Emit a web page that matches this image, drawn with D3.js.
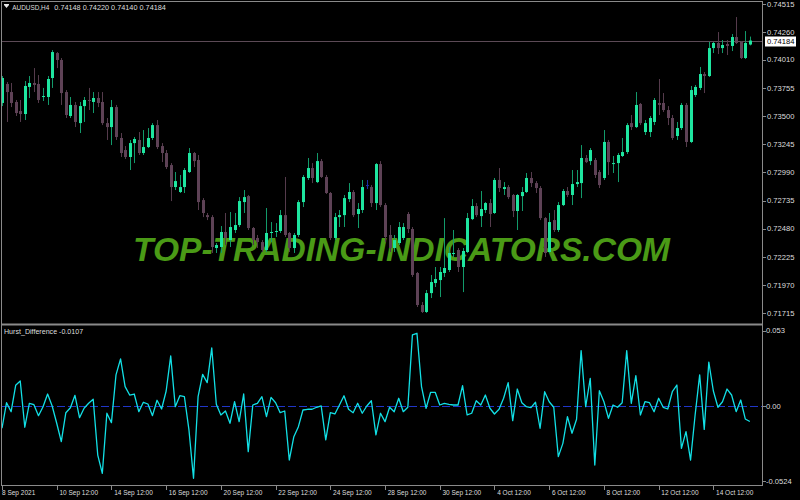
<!DOCTYPE html>
<html><head><meta charset="utf-8">
<script src="https://cdnjs.cloudflare.com/ajax/libs/d3/7.8.5/d3.min.js"></script>
<style>body{margin:0;background:#000;}svg{display:block;}</style>
</head><body>
<svg id="c" width="800" height="500"></svg>
<script>
const symbol = "AUDUSD,H4";
const indicatorName = "Hurst_Difference";

const opens = [
0.73619,0.73791,0.73718,0.73628,0.73546,0.73519,0.73764,0.73800,0.73791,0.73673,
0.73673,0.73845,0.74071,0.74008,0.73718,0.73501,0.73601,0.73437,0.73591,0.73646,
0.73628,0.73664,0.73628,0.73437,0.73401,0.73582,0.73302,0.73193,0.73130,0.73256,
0.73284,0.73166,0.73220,0.73302,0.73419,0.73229,0.73166,0.73057,0.72858,0.72813,
0.72858,0.72994,0.73166,0.73103,0.72740,0.72604,0.72586,0.72306,0.72315,0.72451,
0.72378,0.72469,0.72514,0.72722,0.72776,0.72487,0.72397,0.72360,0.72288,0.72442,
0.72451,0.72460,0.72604,0.72442,0.72306,0.72424,0.72722,0.72940,0.73030,0.72903,
0.73093,0.72949,0.72804,0.72397,0.72586,0.72604,0.72749,0.72813,0.72614,0.72650,
0.72876,0.72858,0.72713,0.73066,0.72695,0.72424,0.72306,0.72351,0.72397,0.72614,
0.72478,0.72080,0.71790,0.71727,0.71898,0.71989,0.72016,0.72080,0.72107,0.72252,
0.72288,0.72134,0.72270,0.72568,0.72686,0.72595,0.72650,0.72713,0.72623,0.72922,
0.72840,0.72858,0.72786,0.72641,0.72776,0.72813,0.72940,0.72894,0.72849,0.72577,
0.72270,0.72559,0.72469,0.72695,0.72822,0.72786,0.72885,0.72894,0.73121,0.73093,
0.73103,0.72994,0.72940,0.73266,0.73066,0.73075,0.73139,0.73175,0.73437,0.73401,
0.73610,0.73356,0.73356,0.73447,0.73619,0.73619,0.73555,0.73483,0.73320,0.73392,
0.73601,0.73266,0.73691,0.73755,0.73881,0.73863,0.74116,0.74162,0.74116,0.74153,
0.74135,0.74216,0.74171,0.74026,0.74148];
const highs = [
0.73863,0.73809,0.73800,0.73646,0.73646,0.73818,0.73863,0.73935,0.73872,0.73755,
0.73863,0.74098,0.74080,0.74026,0.73736,0.73673,0.73628,0.73628,0.73673,0.73755,
0.73718,0.73718,0.73718,0.73483,0.73646,0.73601,0.73347,0.73229,0.73284,0.73311,
0.73356,0.73374,0.73392,0.73437,0.73465,0.73256,0.73193,0.73075,0.72994,0.72967,
0.73030,0.73211,0.73175,0.73148,0.72758,0.72623,0.72604,0.72351,0.72505,0.72623,
0.72632,0.72623,0.72767,0.72831,0.72786,0.72496,0.72424,0.72378,0.72668,0.72541,
0.72532,0.72650,0.72949,0.72451,0.72442,0.72740,0.72967,0.73121,0.73075,0.73166,
0.73112,0.72967,0.72813,0.72623,0.72650,0.72786,0.72894,0.72831,0.72713,0.72922,
0.72922,0.72876,0.73075,0.73093,0.72713,0.72514,0.72424,0.72541,0.72532,0.72632,
0.72496,0.72089,0.71817,0.71926,0.72062,0.72134,0.72134,0.72577,0.72315,0.72469,
0.72306,0.72306,0.72623,0.72749,0.72713,0.72822,0.72722,0.72749,0.72940,0.73030,
0.72903,0.72876,0.72795,0.72795,0.72858,0.72985,0.72994,0.72912,0.72867,0.72586,
0.72623,0.72650,0.72722,0.72840,0.72858,0.73012,0.73012,0.73238,0.73148,0.73211,
0.73121,0.73012,0.73374,0.73284,0.73139,0.73166,0.73302,0.73437,0.73510,0.73718,
0.73619,0.73465,0.73501,0.73664,0.73836,0.73709,0.73591,0.73510,0.73447,0.73619,
0.73619,0.73773,0.73782,0.73945,0.73899,0.74171,0.74171,0.74261,0.74189,0.74189,
0.74243,0.74397,0.74180,0.74270,0.74220];
const lows = [
0.73591,0.73447,0.73582,0.73501,0.73447,0.73465,0.73664,0.73718,0.73619,0.73637,
0.73601,0.73755,0.73935,0.73601,0.73483,0.73483,0.73401,0.73347,0.73447,0.73555,
0.73528,0.73582,0.73419,0.73284,0.73238,0.73284,0.73130,0.73112,0.73012,0.73075,
0.73148,0.73148,0.73211,0.73284,0.73202,0.73084,0.73021,0.72731,0.72831,0.72804,
0.72804,0.72985,0.73039,0.72650,0.72586,0.72559,0.72261,0.72261,0.72261,0.72333,
0.72315,0.72442,0.72496,0.72623,0.72469,0.72333,0.72306,0.72270,0.72270,0.72360,
0.72406,0.72442,0.72406,0.72270,0.72261,0.72406,0.72677,0.72922,0.72894,0.72894,
0.72940,0.72795,0.72378,0.72378,0.72496,0.72496,0.72722,0.72586,0.72487,0.72623,
0.72840,0.72677,0.72650,0.72677,0.72360,0.72270,0.72270,0.72333,0.72378,0.72442,
0.72044,0.71772,0.71718,0.71718,0.71853,0.71953,0.71862,0.72044,0.72089,0.72225,
0.72089,0.71907,0.72261,0.72559,0.72586,0.72496,0.72623,0.72496,0.72614,0.72813,
0.72786,0.72749,0.72586,0.72469,0.72641,0.72804,0.72858,0.72804,0.72559,0.72225,
0.72261,0.72451,0.72451,0.72686,0.72767,0.72695,0.72858,0.72758,0.73075,0.73057,
0.72940,0.72849,0.72922,0.72967,0.72985,0.72903,0.73130,0.73157,0.73374,0.73392,
0.73419,0.73329,0.73311,0.73419,0.73510,0.73537,0.73419,0.73284,0.73284,0.73374,
0.73220,0.73256,0.73673,0.73736,0.73709,0.73854,0.74071,0.74062,0.74071,0.74053,
0.74089,0.74153,0.74017,0.74017,0.74140];
const closes = [
0.73845,0.73718,0.73619,0.73528,0.73519,0.73773,0.73800,0.73782,0.73646,0.73682,
0.73836,0.74080,0.74008,0.73709,0.73510,0.73601,0.73447,0.73591,0.73646,0.73637,
0.73664,0.73619,0.73437,0.73401,0.73582,0.73311,0.73166,0.73130,0.73256,0.73293,
0.73166,0.73220,0.73302,0.73419,0.73220,0.73166,0.73039,0.72858,0.72912,0.72858,
0.73012,0.73166,0.73093,0.72722,0.72623,0.72586,0.72315,0.72333,0.72451,0.72397,
0.72496,0.72514,0.72731,0.72767,0.72487,0.72378,0.72360,0.72288,0.72442,0.72451,
0.72460,0.72604,0.72424,0.72306,0.72424,0.72722,0.72949,0.73030,0.72940,0.73093,
0.72949,0.72804,0.72397,0.72586,0.72604,0.72758,0.72813,0.72604,0.72659,0.72858,
0.72876,0.72713,0.73066,0.72695,0.72406,0.72306,0.72378,0.72496,0.72496,0.72478,
0.72062,0.71790,0.71727,0.71898,0.71998,0.72025,0.72089,0.72125,0.72261,0.72261,
0.72134,0.72279,0.72577,0.72686,0.72604,0.72659,0.72713,0.72614,0.72922,0.72849,
0.72858,0.72767,0.72641,0.72786,0.72813,0.72940,0.72894,0.72849,0.72577,0.72261,
0.72541,0.72469,0.72695,0.72822,0.72786,0.72885,0.72903,0.73121,0.73084,0.73193,
0.72967,0.72876,0.73266,0.73084,0.73075,0.73148,0.73175,0.73419,0.73401,0.73601,
0.73437,0.73437,0.73483,0.73646,0.73601,0.73555,0.73483,0.73302,0.73392,0.73601,
0.73266,0.73736,0.73764,0.73881,0.73863,0.74116,0.74162,0.74116,0.74144,0.74135,
0.74216,0.74162,0.74026,0.74162,0.74184];

const hurst = [
-0.0154,0.0025,-0.0038,0.0147,0.0177,-0.0147,0.0021,0.0011,-0.0066,-0.0003,
0.0086,0.0002,-0.0119,-0.0248,-0.0045,-0.0010,0.0077,-0.0080,-0.0014,0.0021,
0.0049,-0.0342,-0.0470,-0.0049,-0.0115,0.0220,0.0332,0.0138,0.0079,0.0086,
-0.0038,0.0028,0.0016,-0.0066,0.0042,-0.0019,0.0107,0.0353,-0.0003,0.0074,
0.0067,-0.0166,-0.0505,0.0067,0.0224,0.0166,0.0409,0.0014,-0.0061,-0.0033,
-0.0119,0.0032,-0.0108,0.0086,-0.0318,0.0009,0.0021,0.0067,-0.0073,0.0063,
0.0025,-0.0045,-0.0033,-0.0377,-0.0213,-0.0143,-0.0026,-0.0021,-0.0021,-0.0007,
0.0002,-0.0236,-0.0045,-0.0054,0.0009,0.0074,-0.0021,-0.0045,0.0021,-0.0049,
0.0002,0.0039,-0.0201,-0.0049,-0.0108,-0.0007,-0.0038,0.0056,-0.0038,-0.0007,
0.0500,0.0512,0.0138,-0.0014,0.0098,0.0098,0.0009,0.0021,0.0014,0.0009,
0.0009,0.0145,-0.0061,-0.0049,0.0039,0.0009,0.0079,-0.0014,-0.0054,-0.0021,
0.0056,0.0166,-0.0101,0.0121,0.0025,-0.0003,-0.0010,0.0028,-0.0154,0.0102,
0.0032,-0.0007,-0.0353,-0.0260,-0.0073,-0.0189,-0.0091,0.0390,-0.0003,0.0196,
-0.0412,0.0109,0.0032,-0.0084,0.0009,-0.0007,0.0025,0.0390,0.0021,0.0215,
-0.0061,0.0032,0.0025,-0.0038,0.0056,-0.0007,-0.0019,0.0102,0.0149,-0.0295,
-0.0178,-0.0377,-0.0061,0.0220,-0.0162,0.0309,0.0107,-0.0007,0.0032,0.0121,
0.0079,-0.0038,0.0044,-0.0089,-0.0107];

const priceTicks = [0.74515,0.74260,0.74010,0.73755,0.73500,0.73245,0.72990,0.72735,0.72480,0.72225,0.71970,0.71715];
const hurstTicks = [0.053, 0.0, -0.0524];
const hurstTickLabels = ["0.053", "0.00", "-0.0524"];
const timeTickBars = [0,12,24,36,48,60,72,84,96,108,120,132,144,156];
const timeTickLabels = ["8 Sep 2021","10 Sep 12:00","14 Sep 12:00","16 Sep 12:00","20 Sep 12:00","22 Sep 12:00","24 Sep 12:00","28 Sep 12:00","30 Sep 12:00","4 Oct 12:00","6 Oct 12:00","8 Oct 12:00","12 Oct 12:00","14 Oct 12:00"];
const watermark = "TOP-TRADING-INDICATORS.COM";

const svg = d3.select("#c");
const F = "'Liberation Sans', Arial, sans-serif";
const n = closes.length;
const x = d3.scaleLinear().domain([0, 164]).range([2, 2 + 164 * 4.56]);
const yP = d3.scaleLinear().domain([0.71715, 0.74515]).range([313.3, 4]);
const yH = d3.scaleLinear().domain([-0.0524, 0.053]).range([481, 330.7]);

svg.append("rect").attr("width", 800).attr("height", 500).attr("fill", "#000");

// clips
const defs = svg.append("defs");
defs.append("clipPath").attr("id", "mainClip").append("rect").attr("x", 2).attr("y", 2).attr("width", 760).attr("height", 321);
defs.append("clipPath").attr("id", "subClip").append("rect").attr("x", 2).attr("y", 326).attr("width", 760).attr("height", 159);

// watermark
svg.append("text").attr("x", 133).attr("y", 261)
  .attr("font-family", F).attr("font-weight", "bold").attr("font-style", "italic")
  .attr("font-size", 33).attr("fill", "#4a9a16")
  .attr("textLength", 537).attr("lengthAdjust", "spacingAndGlyphs")
  .text(watermark);

// current price line
const last = n - 1;
svg.append("line").attr("x1", 2).attr("x2", 762).attr("y1", Math.round(yP(closes[last])) + 0.5).attr("y2", Math.round(yP(closes[last])) + 0.5)
  .attr("stroke", "#5c4a56").attr("stroke-width", 1);

// candles
const gC = svg.append("g").attr("clip-path", "url(#mainClip)");
const idx = d3.range(n);
const col = i => closes[i] > opens[i] ? "bull" : (closes[i] < opens[i] ? "bear" : "doji");
const bodyCol = {bull: "#1ee6a0", bear: "#5e4256", doji: "#1c2fa8"};
const wickCol = {bull: "#129a6a", bear: "#553b4c", doji: "#1c2fa8"};
gC.selectAll("line.w").data(idx).join("line").attr("class", "w")
  .attr("x1", i => Math.round(x(i)) + 0.5).attr("x2", i => Math.round(x(i)) + 0.5)
  .attr("y1", i => yP(highs[i])).attr("y2", i => yP(lows[i]))
  .attr("stroke", i => wickCol[col(i)]).attr("stroke-width", 1);
gC.selectAll("rect.b").data(idx).join("rect").attr("class", "b")
  .attr("x", i => Math.round(x(i)) - 1).attr("width", 3)
  .attr("y", i => yP(Math.max(opens[i], closes[i])))
  .attr("height", i => Math.max(1, Math.abs(yP(opens[i]) - yP(closes[i]))))
  .attr("fill", i => bodyCol[col(i)]);

// indicator
const gH = svg.append("g").attr("clip-path", "url(#subClip)");
gH.append("line").attr("x1", 2).attr("x2", 762).attr("y1", Math.round(yH(0)) + 0.5).attr("y2", Math.round(yH(0)) + 0.5)
  .attr("stroke", "#2036c8").attr("stroke-width", 1).attr("stroke-dasharray", "8,3");
gH.append("path").datum(hurst)
  .attr("d", d3.line().x((d, i) => x(i)).y(d => yH(d)))
  .attr("fill", "none").attr("stroke", "#12e0e6").attr("stroke-width", 1.3).attr("stroke-linejoin", "round");

// frames
const frame = "#8a8a8a";
svg.append("line").attr("x1", 1).attr("x2", 763).attr("y1", 1.5).attr("y2", 1.5).attr("stroke", frame);
svg.append("line").attr("x1", 1.5).attr("x2", 1.5).attr("y1", 1).attr("y2", 486).attr("stroke", frame);
svg.append("line").attr("x1", 762.5).attr("x2", 762.5).attr("y1", 1).attr("y2", 486).attr("stroke", frame);
svg.append("line").attr("x1", 1).attr("x2", 763).attr("y1", 324.5).attr("y2", 324.5).attr("stroke", frame).attr("stroke-width", 2);
svg.append("line").attr("x1", 1).attr("x2", 763).attr("y1", 485.5).attr("y2", 485.5).attr("stroke", frame);

// price axis
const txt = "#dedede";
const gA = svg.append("g");
gA.selectAll("line.pt").data(priceTicks).join("line").attr("class", "pt")
  .attr("x1", 763).attr("x2", 766).attr("y1", d => Math.round(yP(d)) + 0.5).attr("y2", d => Math.round(yP(d)) + 0.5).attr("stroke", frame);
gA.selectAll("text.pl").data(priceTicks).join("text").attr("class", "pl")
  .attr("x", 767).attr("y", d => yP(d)).attr("dy", "0.35em")
  .attr("font-family", F).attr("font-size", 7.6).attr("fill", txt)
  .text(d => d.toFixed(5));
// current price box
const cy = yP(closes[last]);
gA.append("rect").attr("x", 765).attr("y", Math.round(cy) - 4.5).attr("width", 31).attr("height", 10).attr("fill", "#ffffff");
gA.append("text").attr("x", 767).attr("y", cy + 1).attr("dy", "0.35em")
  .attr("font-family", F).attr("font-size", 7.6).attr("fill", "#000").text(closes[last].toFixed(5));

// hurst axis
gA.selectAll("line.ht").data(hurstTicks).join("line").attr("class", "ht")
  .attr("x1", 763).attr("x2", 766).attr("y1", d => Math.round(yH(d)) + 0.5).attr("y2", d => Math.round(yH(d)) + 0.5).attr("stroke", frame);
gA.selectAll("text.hl").data(hurstTicks).join("text").attr("class", "hl")
  .attr("x", 766).attr("y", d => yH(d)).attr("dy", "0.35em")
  .attr("font-family", F).attr("font-size", 7.6).attr("fill", txt)
  .text((d, i) => hurstTickLabels[i]);

// time axis
gA.selectAll("line.tt").data(timeTickBars).join("line").attr("class", "tt")
  .attr("x1", d => Math.round(x(d)) + 0.5).attr("x2", d => Math.round(x(d)) + 0.5)
  .attr("y1", 486).attr("y2", 490).attr("stroke", frame);
gA.selectAll("text.tl").data(timeTickBars).join("text").attr("class", "tl")
  .attr("x", (d, i) => i === 0 ? x(d) : x(d) + 2.7).attr("y", 493).attr("dy", "0.35em")
  .attr("font-family", F).attr("font-size", 6.5).attr("fill", txt)
  .text((d, i) => timeTickLabels[i]);

// titles
svg.append("path").attr("d", "M4,5 L9,5 L6.5,8 Z").attr("fill", "#e8e8e8");
svg.append("rect").attr("x", 4).attr("y", 4).attr("width", 5).attr("height", 1).attr("fill", "#e8e8e8");
svg.append("text").attr("x", 12.3).attr("y", 7).attr("dy", "0.35em")
  .attr("font-family", F).attr("font-size", 7.3).attr("fill", txt)
  .attr("textLength", 37).attr("lengthAdjust", "spacingAndGlyphs").text(symbol);
svg.append("text").attr("x", 54.3).attr("y", 7).attr("dy", "0.35em")
  .attr("font-family", F).attr("font-size", 7.3).attr("fill", txt)
  .text([opens[last], highs[last], lows[last], closes[last]].map(v => v.toFixed(5)).join(" "));
svg.append("text").attr("x", 4).attr("y", 331.5).attr("dy", "0.35em")
  .attr("font-family", F).attr("font-size", 7.1).attr("fill", txt)
  .text(indicatorName + " " + hurst[last].toFixed(4));
</script>
</body></html>
